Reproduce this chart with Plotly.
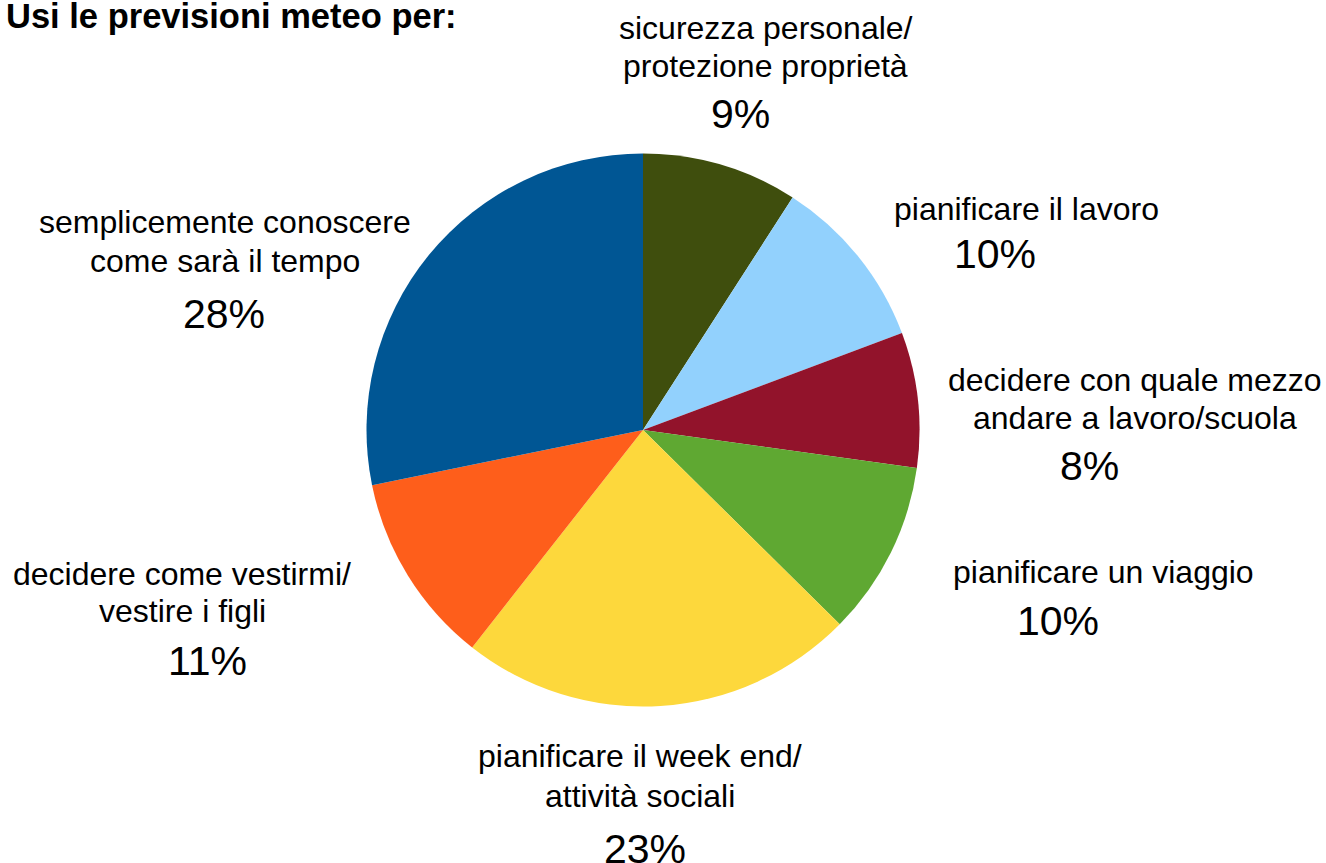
import plotly.graph_objects as go

# ---- data ----
categories = [
    "sicurezza personale/\nprotezione proprietà",
    "pianificare il lavoro",
    "decidere con quale mezzo\nandare a lavoro/scuola",
    "pianificare un viaggio",
    "pianificare il week end/\nattività sociali",
    "decidere come vestirmi/\nvestire i figli",
    "semplicemente conoscere\ncome sarà il tempo",
]
values = [9.1, 10.2, 7.9, 10.2, 23.2, 11.2, 28.2]
colors = ["#3f4e0d", "#92d1fd", "#92132b", "#5fa832", "#fdd83c", "#fe5e1b", "#005694"]
title_text = "Usi le previsioni meteo per:"

# ---- layout helpers (label placement, pixels) ----
W, H = 1326, 863
FONT = "Liberation Sans, Arial, Helvetica, sans-serif"
LABEL_SIZE = 32
PCT_SIZE = 41
TITLE_SIZE = 34.5
# (center x of label lines, baselines of label lines, center x of percent, baseline of percent)
label_pos = [
    (766, [39, 77], 740, 128),
    (1026, [220], 995, 268),
    (1135, [391, 429], 1089, 480),
    (1103, [583], 1058, 635),
    (640, [767, 807], 645, 863),
    (182, [585, 622], 207, 675),
    (225, [233, 272], 224, 328),
]

def px(x):
    return x / W

def py(y):
    return 1 - y / H

fig = go.Figure()
fig.add_trace(go.Pie(
    labels=[c.replace("\n", " ") for c in categories],
    values=values,
    marker=dict(colors=colors, line=dict(width=0)),
    sort=False,
    direction="clockwise",
    rotation=0,
    textinfo="none",
    hoverinfo="label+percent",
    showlegend=False,
    domain=dict(x=[px(366.5), px(919.5)], y=[py(707), py(153)]),
))

total = sum(values)
annotations = []
for cat, val, (lx, lbs, pxc, pbl) in zip(categories, values, label_pos):
    for line, bl in zip(cat.split("\n"), lbs):
        annotations.append(dict(
            text=line, x=px(lx), y=py(bl - 0.347 * LABEL_SIZE),
            xref="paper", yref="paper", xanchor="center", yanchor="middle",
            showarrow=False, font=dict(family=FONT, size=LABEL_SIZE, color="#000000"),
        ))
    annotations.append(dict(
        text=f"{round(val / total * 100)}%", x=px(pxc), y=py(pbl - 0.347 * PCT_SIZE),
        xref="paper", yref="paper", xanchor="center", yanchor="middle",
        showarrow=False, font=dict(family=FONT, size=PCT_SIZE, color="#000000"),
    ))

annotations.append(dict(
    text=f"<b>{title_text}</b>", x=px(4), y=py(28 - 0.347 * TITLE_SIZE),
    xref="paper", yref="paper", xanchor="left", yanchor="middle",
    showarrow=False, font=dict(family=FONT, size=TITLE_SIZE, color="#000000"),
))

fig.update_layout(
    width=W, height=H,
    margin=dict(l=0, r=0, t=0, b=0),
    paper_bgcolor="#ffffff",
    plot_bgcolor="#ffffff",
    annotations=annotations,
)

fig.write_html(
    "out.html",
    config={"displayModeBar": False},
    post_script="document.body.style.margin='0';document.body.style.overflow='hidden';",
)
